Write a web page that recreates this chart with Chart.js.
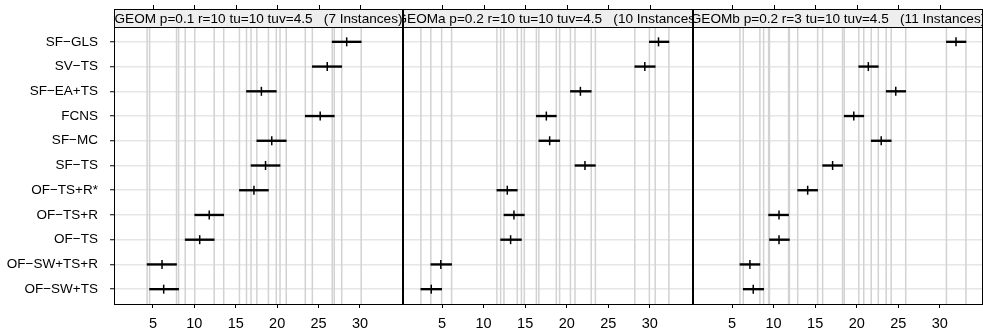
<!DOCTYPE html>
<html>
<head>
<meta charset="utf-8">
<script src="https://cdn.jsdelivr.net/npm/chart.js@4.4.1/dist/chart.umd.min.js"></script>
<style>
  html, body { margin: 0; padding: 0; background: #fff; }
  #wrap { position: relative; width: 983px; height: 329px; overflow: hidden; }
  .panel { position: absolute; top: 0; height: 329px; }
</style>
</head>
<body>
<div id="wrap">
  <div class="panel" style="left:0;width:403px"><canvas id="c1"></canvas></div>
  <div class="panel" style="left:403px;width:290px"><canvas id="c2"></canvas></div>
  <div class="panel" style="left:693px;width:290px"><canvas id="c3"></canvas></div>
</div>
<script>
// rows, top to bottom
const categories = ['SF\u2212GLS', 'SV\u2212TS', 'SF\u2212EA+TS', 'FCNS', 'SF\u2212MC', 'SF\u2212TS',
  'OF\u2212TS+R*', 'OF\u2212TS+R', 'OF\u2212TS', 'OF\u2212SW+TS+R', 'OF\u2212SW+TS'];
const xTicks = [5, 10, 15, 20, 25, 30];

// GEOM p=0.1
const geomMean = [28.4, 26.05, 18.1, 25.2, 19.35, 18.6, 17.2, 11.8, 10.65, 6.1, 6.3];
const geomLo   = [26.65, 24.25, 16.3, 23.4, 17.55, 16.85, 15.45, 10.05, 8.9, 4.3, 4.6];
const geomHi   = [30.15, 27.8, 19.9, 26.9, 21.1, 20.35, 18.95, 13.55, 12.4, 7.85, 8.1];

// GEOMa p=0.2
const geomaMean = [31.05, 29.4, 21.65, 17.55, 17.95, 22.2, 12.85, 13.65, 13.25, 4.85, 3.7];
const geomaLo   = [29.95, 28.2, 20.45, 16.35, 16.65, 21.0, 11.6, 12.45, 12.05, 3.65, 2.45];
const geomaHi   = [32.3, 30.65, 22.95, 18.75, 19.15, 23.45, 14.05, 14.9, 14.55, 6.15, 4.95];

// GEOMb p=0.2 r=3
const geombMean = [31.95, 21.4, 24.7, 19.65, 22.95, 17.1, 14.1, 10.65, 10.65, 7.15, 7.55];
const geombLo   = [30.8, 20.25, 23.55, 18.5, 21.75, 15.9, 12.9, 9.4, 9.5, 5.95, 6.35];
const geombHi   = [33.15, 22.6, 25.9, 20.85, 24.15, 18.3, 15.3, 11.8, 11.9, 8.35, 8.8];

const FONT = '"Liberation Sans", Arial, Helvetica, sans-serif';
Chart.defaults.font.family = FONT;
Chart.defaults.color = '#000';
Chart.defaults.animation = false;

// gray lines at interval ends, strip header, top ticks and box
const panelDecor = {
  id: 'panelDecor',
  beforeDatasetsDraw(chart, args, opts) {
    const { ctx, chartArea: a, scales: { x } } = chart;
    ctx.save();
    ctx.strokeStyle = '#d2d2d2';
    ctx.lineWidth = 1.5;
    opts.lo.concat(opts.hi).forEach(v => {
      const px = x.getPixelForValue(v);
      ctx.beginPath();
      ctx.moveTo(px, a.top);
      ctx.lineTo(px, a.bottom);
      ctx.stroke();
    });
    ctx.restore();
  },
  afterDraw(chart, args, opts) {
    const { ctx, chartArea: a, scales: { x } } = chart;
    ctx.save();
    // box
    ctx.strokeStyle = '#000';
    ctx.lineWidth = 1;
    ctx.strokeRect(a.left + 0.5, a.top + 0.5, a.right - a.left - 1, a.bottom - a.top);
    // strip
    const sTop = 9, sH = a.top - sTop;
    ctx.fillStyle = '#eeeeee';
    ctx.fillRect(a.left, sTop, a.right - a.left, sH);
    ctx.strokeRect(a.left + 0.5, sTop + 0.5, a.right - a.left - 1, sH);
    ctx.save();
    ctx.beginPath();
    ctx.rect(a.left + 1, sTop + 1, a.right - a.left - 2, sH - 1);
    ctx.clip();
    ctx.fillStyle = '#000';
    ctx.font = '13.6px ' + FONT;
    ctx.textAlign = 'center';
    ctx.textBaseline = 'middle';
    ctx.fillText(opts.title, (a.left + a.right) / 2, sTop + sH / 2 + 1);
    ctx.restore();
    // top ticks
    ctx.beginPath();
    xTicks.forEach(v => {
      const px = Math.round(x.getPixelForValue(v)) + 0.5;
      ctx.moveTo(px, 5);
      ctx.lineTo(px, sTop);
    });
    ctx.stroke();
    ctx.restore();
  }
};

function makePanel(id, title, mean, lo, hi, showLabels) {
  new Chart(document.getElementById(id), {
    type: 'bar',
    data: {
      datasets: [{
        type: 'bar',
        data: lo.map((l, i) => ({ x: [l, hi[i]], y: i })),
        backgroundColor: '#000',
        borderWidth: 0,
        barThickness: 1.7,
        order: 2
      }, {
        type: 'scatter',
        data: mean.map((m, i) => ({ x: m, y: i })),
        pointStyle: 'line',
        rotation: 90,
        radius: 4.5,
        borderWidth: 1.5,
        borderColor: '#000',
        backgroundColor: '#000',
        order: 1
      }]
    },
    options: {
      indexAxis: 'y',
      responsive: true,
      maintainAspectRatio: false,
      layout: { autoPadding: false, padding: { top: 27, right: 0, left: 0, bottom: 0 } },
      plugins: {
        legend: { display: false },
        tooltip: { enabled: false },
        panelDecor: { title, lo, hi }
      },
      scales: {
        x: {
          type: 'linear',
          min: 0.3,
          max: 35.2,
          afterBuildTicks: s => { s.ticks = xTicks.map(v => ({ value: v })); },
          afterFit: s => { s.height = 25; },
          ticks: { font: { size: 14.5 }, padding: 7, maxRotation: 0 },
          grid: { drawOnChartArea: false, drawTicks: true, tickLength: 4, tickColor: '#000', tickWidth: 1 },
          border: { display: false }
        },
        y: {
          type: 'linear',
          min: -0.6,
          max: 10.6,
          reverse: true,
          offset: false,
          afterBuildTicks: s => { s.ticks = categories.map((c, i) => ({ value: i })); },
          afterFit: s => { s.width = showLabels ? 114 : 0; },
          ticks: {
            display: showLabels,
            font: { size: 13.5 },
            padding: 12,
            callback: v => categories[v]
          },
          grid: {
            offset: false,
            color: '#e6e6e6',
            lineWidth: 1.5,
            drawTicks: showLabels,
            tickLength: 4,
            tickColor: '#000',
            tickWidth: 1
          },
          border: { display: false }
        }
      }
    },
    plugins: [panelDecor]
  });
}

makePanel('c1', 'GEOM p=0.1 r=10 tu=10 tuv=4.5   (7 Instances)', geomMean, geomLo, geomHi, true);
makePanel('c2', 'GEOMa p=0.2 r=10 tu=10 tuv=4.5   (10 Instances)', geomaMean, geomaLo, geomaHi, false);
makePanel('c3', 'GEOMb p=0.2 r=3 tu=10 tuv=4.5   (11 Instances)', geombMean, geombLo, geombHi, false);
</script>
</body>
</html>
